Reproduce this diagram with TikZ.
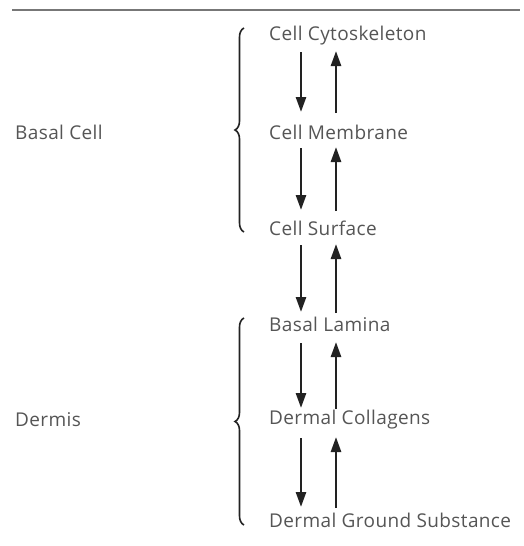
\documentclass[tikz,border=0pt]{standalone}
\usepackage{fontspec}
\setmainfont{Open Sans}[LetterSpace=2]
\usetikzlibrary{arrows.meta,decorations.pathreplacing}
\definecolor{txt}{HTML}{555555}
\definecolor{ink}{HTML}{222222}
\begin{document}
\begin{tikzpicture}[x=1pt,y=-1pt,
  lbl/.style={anchor=west,inner sep=0pt,text=txt,font=\fontsize{19}{21}\selectfont},
  dn/.style={draw=ink,line width=2.6pt,-{Triangle[length=15pt,width=10pt]}},
  br/.style={draw=ink,line width=1.6pt,decorate,decoration={brace,amplitude=9pt,aspect=0.5}}]
\useasboundingbox (0,0) rectangle (524,546);
\draw[txt!80,line width=1.2pt] (12,10) -- (520,10);
\node[lbl] (a) at (269,36) {Cell Cytoskeleton};
\node[lbl] (b) at (269,132) {Cell Membrane};
\node[lbl] (c) at (269,228) {Cell Surface};
\node[lbl] (d) at (269,324) {Basal Lamina};
\node[lbl] (e) at (269,420) {Dermal Collagens};
\node[lbl] (f) at (269,520) {Dermal Ground Substance};
\node[lbl] (bc) at (15,132) {Basal Cell};
\node[lbl] (dm) at (15,420) {Dermis};
\foreach \u/\v/\t/\bt in {a/b/52/112, b/c/148/210, c/d/245/312, d/e/343/408, e/f/438/507}{
  \coordinate (\u\v-dt) at (301,\t);
  \coordinate (\u\v-db) at (301,\bt);
  \coordinate (\u\v-ut) at (336,\t-1);
  \coordinate (\u\v-ub) at (336,\bt+1);
  \draw[dn] (\u\v-dt) -- (\u\v-db);
  \draw[dn] (\u\v-ub) -- (\u\v-ut);
}
\coordinate (b1t) at (244,28);
\coordinate (b1b) at (244,232);
\coordinate (b2t) at (244,318);
\coordinate (b2b) at (244,525);
\draw[br] (b1b) -- (b1t);
\draw[br] (b2b) -- (b2t);
\end{tikzpicture}
\end{document}
